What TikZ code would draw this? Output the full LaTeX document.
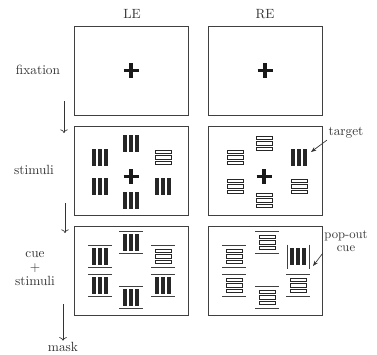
\documentclass[tikz,border=0pt]{standalone}
\usepackage{amsmath}
\usepackage{xcolor}
\usepackage{tikz}
\usetikzlibrary{arrows.meta, positioning}

\begin{document}
\begin{tikzpicture}[x=0.75pt, y=-0.75pt,
    panel/.style={draw=black!75, line width=0.7pt, minimum width=85.5pt, minimum height=66.75pt, inner sep=0pt},
    lab/.style={text=black!80, inner sep=1pt},
    timearrow/.style={->, black!80, line width=0.5pt},
    notearrow/.style={-{Stealth[length=4pt, width=3pt]}, black!80, line width=0.5pt},
    vbars/.pic={\foreach \d in {-6,0,6} \fill[black!85] (\d-1.9,-8.5) rectangle (\d+1.9,8.5);},
    hbars/.pic={\foreach \d in {-5.5,0,5.5} \draw[black!85, line width=0.6pt] (-8,\d-1.7) rectangle (8,\d+1.7);},
    hcue/.pic={\draw[black!75, line width=0.5pt] (-12,-11) -- (12,-11) (-12,11) -- (12,11);},
    vcue/.pic={\draw[black!75, line width=0.5pt] (-11,-12) -- (-11,12) (11,-12) -- (11,12);},
    plus/.pic={\draw[black!90, line width=2.4pt] (-7.5,0) -- (7.5,0) (0,-7.5) -- (0,7.5);}]
        \useasboundingbox (0,0) rectangle (377,354);
        % Panels
        \node[panel] (le1) at (131,70.5) {};
        \node[panel] (re1) at (265,70.5) {};
        \node[panel] (le2) at (131,170.5) {};
        \node[panel] (re2) at (265,170.5) {};
        \node[panel] (le3) at (131,270.5) {};
        \node[panel] (re3) at (265,270.5) {};
        % Eyes
        \node[lab] (le) at (132,14) {LE};
        \node[lab] (re) at (265,14) {RE};
        % Row labels
        \node[lab] (fix) at (38,70) {fixation};
        \node[lab] (stim) at (34,170) {stimuli};
        \node[lab, align=center, font={\baselineskip=10.5pt}] (cue) at (35,269) {cue\\+\\stimuli};
        \node[lab] (mask) at (63,347) {mask};
        % Time
        \coordinate (t1a) at (64,101);
        \coordinate (t1b) at (64,133);
        \coordinate (t2a) at (65,203);
        \coordinate (t2b) at (65,233);
        \draw[timearrow] (t1a) -- (t1b);
        \draw[timearrow] (t2a) -- (t2b);
        \draw[timearrow] (63,304) -- (mask);
        % Fixation
        \pic at (le1) {plus};
        \pic at (re1) {plus};
        % Stimuli LE
        \begin{scope}[shift={(le2)}]
            \pic at (-31,-13) {vbars};
            \pic at (-31,16) {vbars};
            \pic at (0,-27) {vbars};
            \pic at (0,30) {vbars};
            \pic at (32,-13) {hbars};
            \pic at (32,16) {vbars};
            \pic at (0,6) {plus};
        \end{scope}
        % Stimuli RE
        \begin{scope}[shift={(re2)}]
            \pic at (-30,-13) {hbars};
            \pic at (-30,16) {hbars};
            \pic at (-1,-27) {hbars};
            \pic at (-1,30) {hbars};
            \pic at (34,-13) {vbars};
            \pic at (34,16) {hbars};
            \pic at (-1,6) {plus};
        \end{scope}
        % Cue + stimuli LE
        \begin{scope}[shift={(le3)}]
            \pic at (-31,-14) {vbars}; \pic at (-31,-14) {hcue};
            \pic at (-31,15) {vbars};  \pic at (-31,15) {hcue};
            \pic at (0,-28) {vbars};   \pic at (0,-28) {hcue};
            \pic at (0,27) {vbars};    \pic at (0,27) {hcue};
            \pic at (32,-14) {hbars};  \pic at (32,-14) {hcue};
            \pic at (32,15) {vbars};   \pic at (32,15) {hcue};
        \end{scope}
        % Cue + stimuli RE
        \begin{scope}[shift={(re3)}]
            \pic at (-31,-14) {hbars}; \pic at (-31,-14) {hcue};
            \pic at (-31,15) {hbars};  \pic at (-31,15) {hcue};
            \pic at (2,-28) {hbars};   \pic at (2,-28) {hcue};
            \pic at (2,27) {hbars};    \pic at (2,27) {hcue};
            \pic at (33,-14) {vbars};  \pic at (33,-14) {vcue};
            \pic at (33,15) {hbars};   \pic at (33,15) {hcue};
        \end{scope}
        % Notes
        \node[lab] (target) at (346,133) {target};
        \coordinate (targettip) at (311,152);
        \draw[notearrow] (target.south west) -- (targettip);
        \node[lab, font={\fontsize{9.5}{10}\selectfont}, align=center] (popout) at (346,241) {pop-out\\cue};
        \coordinate (popouttip) at (313,266);
        \draw[notearrow] (popout.south west) -- (popouttip);
    \end{tikzpicture}
\end{document}
